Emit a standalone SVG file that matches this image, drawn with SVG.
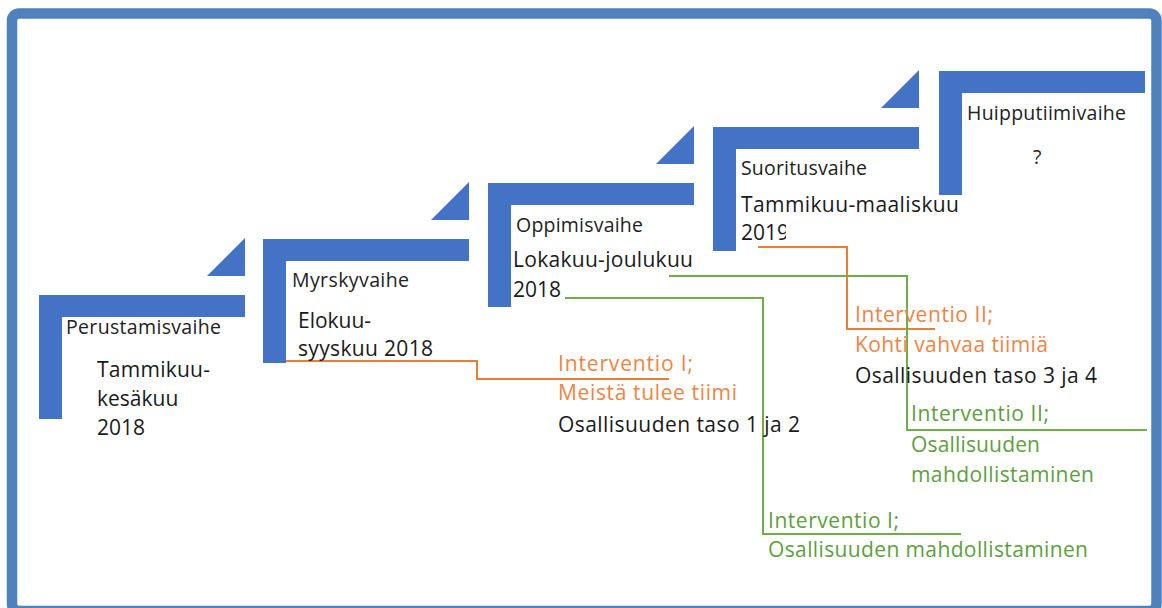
<svg xmlns="http://www.w3.org/2000/svg" width="1162" height="608" viewBox="0 0 1162 608">
  <style>
    .step { fill: #4472C4; }
    .frame { fill: #ffffff; stroke: #4F81BD; stroke-width: 10.5; }
    text { font-family: "Open Sans", "Liberation Sans", sans-serif; }
    .name { font-size: 19.5px; fill: #222222; }
    .date { font-size: 21px; fill: #1a1a1a; }
    .lbl { font-size: 21px; }
    .orange { fill: #EE8545; }
    .green { fill: #5E9E3F; }
    .dark { fill: #1a1a1a; }
    .link { fill: none; stroke-width: 2; }
    .link.o { stroke: #ED7D31; }
    .link.g { stroke: #70AD47; }
  </style>
  <defs>
    <!-- one stair step: L-shaped corner piece -->
    <path id="stair" d="M0 0 H206 V22 H23 V124 H0 Z"/>
    <!-- small wedge above the step -->
    <path id="wedge" d="M206 -57 V-19 H168 Z"/>
    <clipPath id="cut2019">
      <rect x="700" y="215" width="86" height="35"/>
    </clipPath>
  </defs>

  <rect class="frame" x="12" y="13.5" width="1144.5" height="597.5" rx="7"/>

  <!-- connectors -->
  <g id="connectors">
    <path class="link o" d="M285 361 H477 V379 H669"/>
    <path class="link o" d="M758 247 H847 V329 H935"/>
    <path class="link g" d="M565 298 H763 V534 H961"/>
    <path class="link g" d="M669 276 H907 V430 H1147"/>
  </g>

  <g id="perustamisvaihe">
    <use href="#stair" class="step" x="39" y="295"/>
    <use href="#wedge" class="step" x="39" y="295"/>
    <text class="name" x="66" y="334" textLength="155">Perustamisvaihe</text>
    <text class="date" x="97" y="377" textLength="113">Tammikuu-</text>
    <text class="date" x="97" y="406">kesäkuu</text>
    <text class="date" x="97" y="435">2018</text>
  </g>

  <g id="myrskyvaihe">
    <use href="#stair" class="step" x="263" y="239"/>
    <use href="#wedge" class="step" x="263" y="239"/>
    <text class="name" x="292" y="287" textLength="117">Myrskyvaihe</text>
    <text class="date" x="298" y="328" textLength="73">Elokuu-</text>
    <text class="date" x="298" y="356" textLength="135">syyskuu 2018</text>
  </g>

  <g id="oppimisvaihe">
    <use href="#stair" class="step" x="488" y="183"/>
    <use href="#wedge" class="step" x="488" y="183"/>
    <text class="name" x="516" y="232" textLength="127">Oppimisvaihe</text>
    <text class="date" x="513" y="267" textLength="180">Lokakuu-joulukuu</text>
    <text class="date" x="513" y="297" textLength="48">2018</text>
  </g>

  <g id="suoritusvaihe">
    <use href="#stair" class="step" x="713" y="127"/>
    <use href="#wedge" class="step" x="713" y="127"/>
    <text class="name" x="741" y="175" textLength="126">Suoritusvaihe</text>
    <text class="date" x="741" y="212" textLength="218">Tammikuu-maaliskuu</text>
    <text class="date" x="741" y="240" clip-path="url(#cut2019)">2019</text>
  </g>

  <g id="huipputiimivaihe">
    <use href="#stair" class="step" x="939" y="71"/>
    <text class="name" x="967" y="120" textLength="159">Huipputiimivaihe</text>
    <text class="name" x="1033" y="164">?</text>
  </g>

  <g id="interventio-1-tiimi">
    <text class="lbl orange" x="558" y="371" textLength="135">Interventio I;</text>
    <text class="lbl orange" x="558" y="400" textLength="179">Meistä tulee tiimi</text>
    <text class="lbl dark" x="558" y="432" textLength="242">Osallisuuden taso 1 ja 2</text>
  </g>

  <g id="interventio-2-tiimi">
    <text class="lbl orange" x="855" y="322" textLength="138">Interventio II;</text>
    <text class="lbl orange" x="855" y="352" textLength="193">Kohti vahvaa tiimiä</text>
    <text class="lbl dark" x="855" y="383" textLength="242">Osallisuuden taso 3 ja 4</text>
  </g>

  <g id="interventio-2-osallisuus">
    <text class="lbl green" x="911" y="421" textLength="138">Interventio II;</text>
    <text class="lbl green" x="911" y="452" textLength="129">Osallisuuden</text>
    <text class="lbl green" x="911" y="482" textLength="183">mahdollistaminen</text>
  </g>

  <g id="interventio-1-osallisuus">
    <text class="lbl green" x="768" y="528" textLength="131">Interventio I;</text>
    <text class="lbl green" x="768" y="557" textLength="320">Osallisuuden mahdollistaminen</text>
  </g>
</svg>
